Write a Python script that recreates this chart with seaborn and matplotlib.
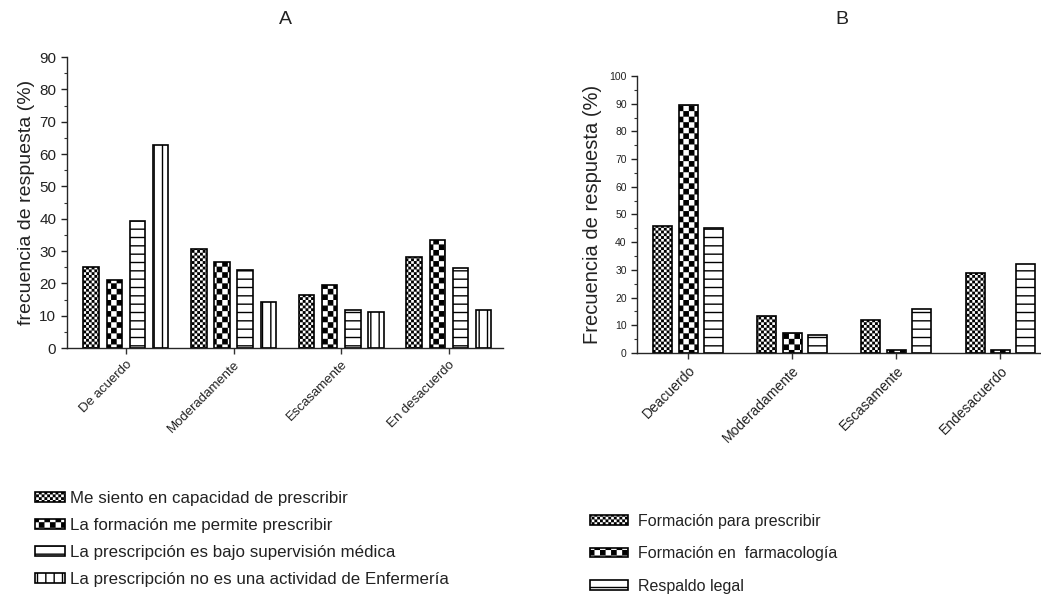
import numpy as np
import pandas as pd
import seaborn as sns
import matplotlib
matplotlib.use('Agg')
import matplotlib.pyplot as plt
from matplotlib import hatch as mhatch
from matplotlib.path import Path
from matplotlib.ticker import MultipleLocator, AutoMinorLocator

# datos panel A
categorias_a = ['De acuerdo', 'Moderadamente', 'Escasamente', 'En desacuerdo']
series_a = ['Me siento en capacidad de prescribir',
            'La formación me permite prescribir',
            'La prescripción es bajo supervisión médica',
            'La prescripción no es una actividad de Enfermería']
capacidad = [25, 30.6, 16.4, 28.2]
formacion = [21.1, 26.6, 19.5, 33.3]
supervision = [39.4, 24.2, 11.9, 24.9]
no_actividad = [62.9, 14.3, 11.2, 11.8]

# datos panel B
categorias_b = ['Deacuerdo', 'Moderadamente', 'Escasamente', 'Endesacuerdo']
series_b = ['Formación para prescribir', 'Formación en  farmacología', 'Respaldo legal']
form_prescribir = [45.9, 13.2, 12.0, 28.7]
form_farmaco = [89.5, 7.2, 1.2, 1.2]
respaldo = [45.3, 6.6, 15.7, 32.2]


class Damero(mhatch.HatchPatternBase):
    """trama de tablero de ajedrez (sustituye a 'O')"""

    def __init__(self, hatch, density):
        n = hatch.count('O') * density
        self.n = n - n % 2
        self.num_vertices = 5 * (self.n * self.n // 2)

    def set_vertices_and_codes(self, vertices, codes):
        s = 1.0 / self.n
        d = 0.0065
        k = 0
        for i in range(self.n):
            for j in range(self.n):
                if (i + j) % 2 == 0:
                    x0, y0 = i * s + d, j * s + d
                    x1, y1 = (i + 1) * s - d, (j + 1) * s - d
                    vertices[k:k + 5] = [(x0, y0), (x1, y0), (x1, y1), (x0, y1), (x0, y0)]
                    codes[k:k + 5] = [Path.MOVETO, Path.LINETO, Path.LINETO,
                                      Path.LINETO, Path.CLOSEPOLY]
                    k += 5


mhatch._hatch_types = [t for t in mhatch._hatch_types if t is not mhatch.LargeCircles] + [Damero]

sns.set_style('ticks')
plt.rcParams['font.family'] = ['Liberation Sans', 'DejaVu Sans']
plt.rcParams['hatch.linewidth'] = 1.0

df_a = pd.DataFrame({
    'categoria': categorias_a * 4,
    'serie': np.repeat(series_a, 4),
    'valor': capacidad + formacion + supervision + no_actividad,
})
df_b = pd.DataFrame({
    'categoria': categorias_b * 3,
    'serie': np.repeat(series_b, 4),
    'valor': form_prescribir + form_farmaco + respaldo,
})

fig = plt.figure(figsize=(10.41, 6.11), dpi=100)
ax_a = fig.add_axes([0.064, 0.4304, 0.419, 0.4763])
ax_b = fig.add_axes([0.612, 0.4223, 0.387, 0.4533])


def dibujar(ax, df, series, tramas, ancho, hueco):
    sns.barplot(data=df, x='categoria', y='valor', hue='serie', hue_order=series,
                palette=['white'] * len(series), edgecolor='black', linewidth=1.2,
                width=ancho, gap=hueco, errorbar=None, legend=False, ax=ax)
    for cont, trama in zip(ax.containers, tramas):
        for barra in cont:
            barra.set_hatch(trama)
    sns.despine(ax=ax)
    ax.spines['left'].set_linewidth(1.0)
    ax.spines['bottom'].set_linewidth(1.0)
    ax.yaxis.set_minor_locator(AutoMinorLocator(2))
    ax.tick_params(axis='both', which='major', length=4, width=1, color='#333333')
    ax.tick_params(axis='y', which='minor', length=2, width=0.8, color='#333333')
    ax.set_xlabel('')
    return [c[0] for c in ax.containers]


tramas_a = ['OOOOOO', 'OOO', '--', '||']
h_a = dibujar(ax_a, df_a, series_a, tramas_a, 0.86, 0.33)
ax_a.set_ylim(0, 90)
ax_a.set_xlim(-0.55, 3.5)
ax_a.yaxis.set_major_locator(MultipleLocator(10))
ax_a.set_ylabel('frecuencia de respuesta (%)', fontsize=14, color='#222222', labelpad=3)
ax_a.tick_params(axis='y', labelsize=11, colors='#222222')
ax_a.set_xticks(range(4))
ax_a.set_xticklabels(categorias_a, rotation=45, ha='right', rotation_mode='anchor',
                     fontsize=9.5, color='#222222')

tramas_b = ['OOOOOO', 'OOO', '--']
h_b = dibujar(ax_b, df_b, series_b, tramas_b, 0.73, 0.25)
ax_b.set_ylim(0, 100)
ax_b.set_xlim(-0.49, 3.38)
ax_b.yaxis.set_major_locator(MultipleLocator(10))
ax_b.set_ylabel('Frecuencia de respuesta (%)', fontsize=14.5, color='#222222', labelpad=5)
ax_b.tick_params(axis='y', labelsize=7.5, colors='#222222')
ax_b.set_xticks(range(4))
ax_b.set_xticklabels(categorias_b, rotation=45, ha='right', rotation_mode='anchor',
                     fontsize=10, color='#222222')

# titulos de los paneles
fig.text(285 / 1041, 1 - 20 / 611, 'A', fontsize=14, ha='center', va='center', color='#222222')
fig.text(842 / 1041, 1 - 20 / 611, 'B', fontsize=14, ha='center', va='center', color='#222222')

fig.legend(h_a, series_a, loc='upper left', bbox_to_anchor=(0.027, 0.207),
           frameon=False, fontsize=12.2, handlelength=1.8, handleheight=0.55,
           handletextpad=0.25, labelspacing=0.7, borderaxespad=0, labelcolor='#222222')
fig.legend(h_b, series_b, loc='upper left', bbox_to_anchor=(0.561, 0.170),
           frameon=False, fontsize=11.5, handlelength=2.35, handleheight=0.55,
           handletextpad=0.6, labelspacing=1.1, borderaxespad=0, labelcolor='#222222')

fig.savefig('out.png', dpi=100)
